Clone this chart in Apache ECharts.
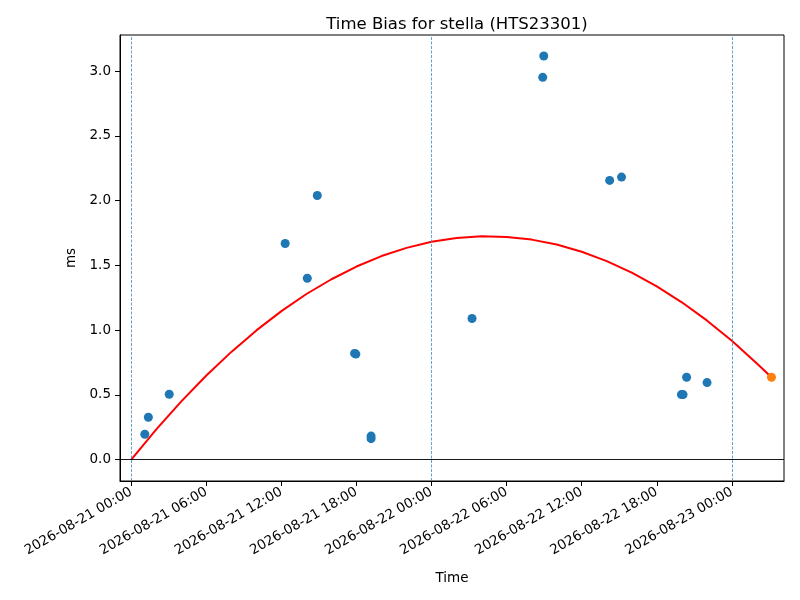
<!DOCTYPE html>
<html>
<head>
<meta charset="utf-8">
<script src="https://cdn.jsdelivr.net/npm/echarts@6/dist/echarts.min.js"></script>
<style>
  html, body { margin:0; padding:0; background:#fff; }
  #chart { width:800px; height:600px; }
</style>
</head>
<body>
<div id="chart"></div>
<script>
// measured time bias points (UTC)
const pointTimes = [
  "2026-08-21 01:05", "2026-08-21 01:22", "2026-08-21 03:02",
  "2026-08-21 12:18", "2026-08-21 14:04", "2026-08-21 14:52",
  "2026-08-21 17:51", "2026-08-21 17:57", "2026-08-21 19:10", "2026-08-21 19:10",
  "2026-08-22 03:14", "2026-08-22 08:53", "2026-08-22 08:58",
  "2026-08-22 14:14", "2026-08-22 15:11",
  "2026-08-22 19:58", "2026-08-22 20:06", "2026-08-22 20:23", "2026-08-22 22:01"
];
const pointValues = [
  0.196, 0.327, 0.505,
  1.669, 1.401, 2.040,
  0.820, 0.815, 0.182, 0.162,
  1.090, 2.952, 3.117,
  2.156, 2.182,
  0.502, 0.502, 0.636, 0.595
];

// latest point (orange)
const latestTimes = ["2026-08-23 03:10"];
const latestValues = [0.636];

// fitted curve, every 2 hours
const fitTimes = [
  "2026-08-21 00:00", "2026-08-21 02:00", "2026-08-21 04:00", "2026-08-21 06:00",
  "2026-08-21 08:00", "2026-08-21 10:00", "2026-08-21 12:00", "2026-08-21 14:00",
  "2026-08-21 16:00", "2026-08-21 18:00", "2026-08-21 20:00", "2026-08-21 22:00",
  "2026-08-22 00:00", "2026-08-22 02:00", "2026-08-22 04:00", "2026-08-22 06:00",
  "2026-08-22 08:00", "2026-08-22 10:00", "2026-08-22 12:00", "2026-08-22 14:00",
  "2026-08-22 16:00", "2026-08-22 18:00", "2026-08-22 20:00", "2026-08-22 22:00",
  "2026-08-23 00:00", "2026-08-23 02:00", "2026-08-23 03:10"
];
const fitValues = [
  0.000, 0.234, 0.450, 0.650,
  0.832, 0.998, 1.147, 1.279,
  1.393, 1.491, 1.572, 1.635,
  1.682, 1.712, 1.725, 1.720,
  1.699, 1.661, 1.605, 1.533,
  1.444, 1.338, 1.215, 1.075,
  0.918, 0.743, 0.636
];

const dayLines = ["2026-08-21 00:00", "2026-08-22 00:00", "2026-08-23 00:00"];
const xTicks = [
  "2026-08-21 00:00", "2026-08-21 06:00", "2026-08-21 12:00", "2026-08-21 18:00",
  "2026-08-22 00:00", "2026-08-22 06:00", "2026-08-22 12:00", "2026-08-22 18:00",
  "2026-08-23 00:00"
];
const yTicks = [0.0, 0.5, 1.0, 1.5, 2.0, 2.5, 3.0];

const xMin = "2026-08-20 23:06";
const xMax = "2026-08-23 04:10";

function ts(s){
  const [d, t] = s.split(" ");
  const [Y, M, D] = d.split("-").map(Number);
  const [h, m] = t.split(":").map(Number);
  return Date.UTC(Y, M - 1, D, h, m);
}
function pad(n){ return String(n).padStart(2, "0"); }
function fmtTime(v){
  const d = new Date(v);
  return d.getUTCFullYear() + "-" + pad(d.getUTCMonth() + 1) + "-" + pad(d.getUTCDate()) +
    " " + pad(d.getUTCHours()) + ":" + pad(d.getUTCMinutes());
}
function pairs(xs, ys){ return xs.map((x, i) => [ts(x), ys[i]]); }

const FONT = "DejaVu Sans";
const chart = echarts.init(document.getElementById("chart"), null, {renderer: "canvas"});

chart.setOption({
  animation: false,
  backgroundColor: "#fff",
  textStyle: { fontFamily: FONT, color: "#000" },
  title: {
    text: "Time Bias for stella (HTS23301)",
    left: 452, top: 11, textAlign: "center",
    textStyle: { fontFamily: FONT, fontSize: 16.5, fontWeight: "normal", color: "#000" }
  },
  grid: {
    left: 120, right: 16, top: 35, bottom: 119,
    show: true, borderColor: "#000", borderWidth: 1, backgroundColor: "#fff"
  },
  xAxis: {
    type: "value",
    min: ts(xMin), max: ts(xMax),
    name: "Time", nameLocation: "middle", nameGap: 90,
    nameTextStyle: { fontFamily: FONT, fontSize: 13.5, color: "#000" },
    axisLine: { show: true, onZero: false, lineStyle: { color: "#000", width: 1 } },
    axisTick: { show: true, length: 5, lineStyle: { color: "#000" },
      customValues: xTicks.map(ts) },
    axisLabel: {
      customValues: xTicks.map(ts),
      rotate: 30, margin: 10, fontFamily: FONT, fontSize: 13.5, color: "#000",
      formatter: v => fmtTime(v)
    },
    splitLine: { show: false }
  },
  yAxis: {
    type: "value",
    min: -0.165, max: 3.279,
    name: "ms", nameLocation: "middle", nameGap: 39,
    nameTextStyle: { fontFamily: FONT, fontSize: 13.5, color: "#000" },
    axisLine: { show: true, onZero: false, lineStyle: { color: "#000", width: 1 } },
    axisTick: { show: true, length: 5, lineStyle: { color: "#000" }, customValues: yTicks },
    axisLabel: {
      customValues: yTicks, margin: 9, fontFamily: FONT, fontSize: 13.5, color: "#000",
      formatter: v => Number(v).toFixed(1)
    },
    splitLine: { show: false }
  },
  series: [
    {
      name: "guides",
      type: "line",
      data: [],
      silent: true,
      markLine: {
        silent: true, symbol: "none", animation: false,
        label: { show: false },
        data: [
          ...dayLines.map(d => ({ xAxis: ts(d), lineStyle: { color: "#3a8ccc", type: [3, 1.5], width: 0.8 } })),
          { yAxis: 0, lineStyle: { color: "#000", type: "solid", width: 0.9 } }
        ]
      }
    },
    {
      name: "fit",
      type: "line",
      data: pairs(fitTimes, fitValues),
      smooth: false,
      showSymbol: false,
      lineStyle: { color: "#ff0000", width: 2 },
      z: 3
    },
    {
      name: "bias",
      type: "scatter",
      data: pairs(pointTimes, pointValues),
      symbolSize: 9,
      itemStyle: { color: "#1f77b4", opacity: 1 },
      z: 4
    },
    {
      name: "latest",
      type: "scatter",
      data: pairs(latestTimes, latestValues),
      symbolSize: 9,
      itemStyle: { color: "#ff7f0e", opacity: 1 },
      z: 5
    }
  ]
});
</script>
</body>
</html>
